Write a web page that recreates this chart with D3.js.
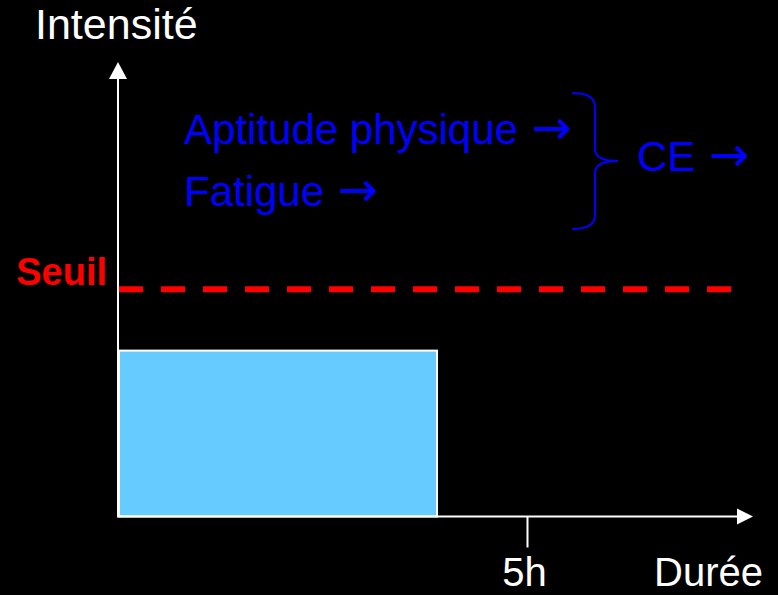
<!DOCTYPE html>
<html>
<head>
<meta charset="utf-8">
<script src="https://cdn.jsdelivr.net/npm/d3@7"></script>
<style>
  html, body { margin: 0; padding: 0; background: #000; }
  svg { display: block; font-family: "Liberation Sans", Arial, sans-serif; }
</style>
</head>
<body>
<div id="chart"></div>
<script>
// chart values
const barStart = [0];          // hours
const barEnd = [3.9];          // hours
const barIntensity = [36.5];   // arbitrary intensity units
const threshold = [50];
const xTicks = [5];
const xTickLabels = ["5h"];
const factors = ["Aptitude physique \u2192", "Fatigue \u2192"];
const result = ["CE \u2192"];

const W = 778, H = 595;
const svg = d3.select("#chart").append("svg")
  .attr("width", W)
  .attr("height", H);

svg.append("rect").attr("width", W).attr("height", H).attr("fill", "#000");

const x = d3.scaleLinear().domain([0, 5]).range([118, 527]);
const y = d3.scaleLinear().domain([0, 100]).range([516.5, 62]);

// exercise bar
svg.selectAll("rect.bar")
  .data(barEnd)
  .join("rect")
  .attr("class", "bar")
  .attr("x", (d, i) => x(barStart[i]) + 1)
  .attr("y", (d, i) => y(barIntensity[i]))
  .attr("width", (d, i) => x(d) - x(barStart[i]) - 1)
  .attr("height", (d, i) => y(0) - y(barIntensity[i]))
  .attr("fill", "#66CCFF")
  .attr("stroke", "#fff")
  .attr("stroke-width", 2);

// threshold
svg.selectAll("line.seuil")
  .data(threshold)
  .join("line")
  .attr("class", "seuil")
  .attr("x1", x(0) + 1)
  .attr("x2", 735)
  .attr("y1", d => y(d))
  .attr("y2", d => y(d))
  .attr("stroke", "#FF0000")
  .attr("stroke-width", 6)
  .attr("stroke-dasharray", "24 18");

svg.append("text")
  .attr("x", 107)
  .attr("y", y(threshold[0]) - 4)
  .attr("text-anchor", "end")
  .attr("fill", "#FF0000")
  .attr("font-weight", "bold")
  .attr("font-size", 38)
  .text("Seuil");

// axes
svg.append("line")
  .attr("x1", x(0)).attr("x2", x(0))
  .attr("y1", y(0)).attr("y2", 76)
  .attr("stroke", "#fff").attr("stroke-width", 2);
svg.append("path")
  .attr("d", `M${x(0)},62 L${x(0) - 9},79 L${x(0) + 9},79 Z`)
  .attr("fill", "#fff");

svg.append("line")
  .attr("x1", x(0) - 1).attr("x2", 740)
  .attr("y1", y(0)).attr("y2", y(0))
  .attr("stroke", "#fff").attr("stroke-width", 2);
svg.append("path")
  .attr("d", `M753,${y(0)} L737,${y(0) - 8} L737,${y(0) + 8} Z`)
  .attr("fill", "#fff");

const xAxis = svg.append("g")
  .attr("transform", `translate(0,${y(0)})`)
  .call(d3.axisBottom(x)
    .tickValues(xTicks)
    .tickFormat((d, i) => xTickLabels[i])
    .tickSize(31)
    .tickPadding(10));
xAxis.select(".domain").remove();
xAxis.selectAll(".tick line").attr("stroke", "#fff").attr("stroke-width", 2);
xAxis.selectAll(".tick text")
  .attr("fill", "#fff")
  .attr("font-size", 40)
  .attr("font-family", "Liberation Sans, Arial, sans-serif")
  .attr("dx", -3);

svg.append("text")
  .attr("x", 763).attr("y", 586)
  .attr("text-anchor", "end")
  .attr("fill", "#fff")
  .attr("font-size", 40)
  .text("Durée");

svg.append("text")
  .attr("x", 35).attr("y", 39)
  .attr("fill", "#fff")
  .attr("font-size", 43)
  .text("Intensité");

// label with a wider arrow glyph
function arrowLabel(sel) {
  sel.append("tspan").text(d => d.slice(0, -2) + " ");
  sel.append("tspan")
    .attr("font-family", "DejaVu Sans, sans-serif")
    .attr("font-size", 48)
    .attr("dx", 2)
    .text(d => d.slice(-1));
}

// factors
const blue = "#0000FF";
svg.selectAll("text.factor")
  .data(factors)
  .join("text")
  .attr("class", "factor")
  .attr("x", 184)
  .attr("y", (d, i) => 144 + i * 62)
  .attr("fill", blue)
  .attr("font-size", 42)
  .call(arrowLabel);

// brace
svg.append("path")
  .attr("d", "M572,93 Q595,93 595,107 L595,149 Q595,161 618,161 Q595,161 595,173 L595,215 Q595,229 572,229")
  .attr("fill", "none")
  .attr("stroke", blue)
  .attr("stroke-width", 2);

svg.selectAll("text.result")
  .data(result)
  .join("text")
  .attr("class", "result")
  .attr("x", 637)
  .attr("y", 171)
  .attr("fill", blue)
  .attr("font-size", 42)
  .call(arrowLabel);
</script>
</body>
</html>
